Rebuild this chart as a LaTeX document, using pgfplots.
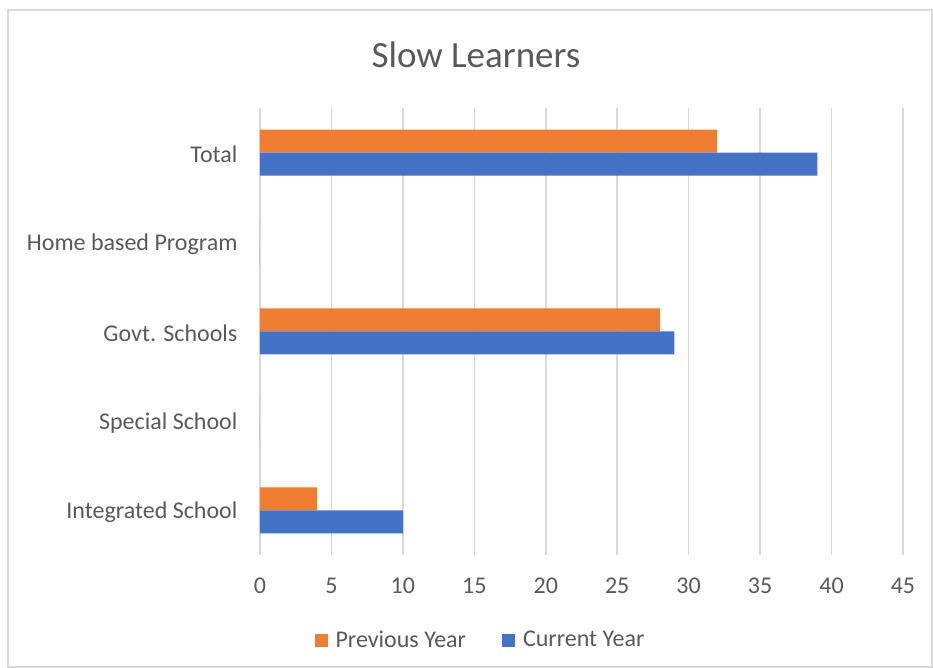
\documentclass[border=0pt]{standalone}
\usepackage{pgfplots}
\usepackage{fontspec}
\setmainfont{Carlito}
\pgfplotsset{compat=1.18}
\definecolor{PrevColor}{RGB}{237,125,49}
\definecolor{CurColor}{RGB}{68,114,196}
\definecolor{GridColor}{RGB}{217,217,217}
\definecolor{TextColor}{RGB}{89,89,89}
\begin{document}
\begin{tikzpicture}
  % chart area (1px = 0.5pt)
  \path[use as bounding box] (0,0) rectangle (466.5pt,334pt);
  \draw[GridColor, line width=0.7pt] (4pt,0.4pt) rectangle (466pt,329pt);
  \node[TextColor, font=\fontsize{18.5}{21}\selectfont] at (238pt,306.5pt) {Slow Learners};
  \begin{axis}[
      at={(130pt,56.5pt)}, anchor=south west,
      scale only axis, width=321.5pt, height=223.5pt,
      xbar, bar width=11.5pt,
      xmin=0, xmax=45, ymin=-0.5, ymax=4.5,
      xtick={0,5,...,45},
      ytick={0,1,2,3,4},
      yticklabels={Integrated School, Special School, Govt. Schools, Home based Program, Total},
      axis line style={draw=none},
      tick style={draw=none},
      xmajorgrids, major grid style={GridColor, line width=0.8pt},
      ymajorgrids=false,
      ticklabel style={font=\fontsize{12}{14}\selectfont, text=TextColor},
      /pgf/number format/assume math mode=true,
      xticklabel style={yshift=-8pt},
      yticklabel style={xshift=-3.5pt, yshift=-1pt},
      legend style={at={(0.3445,-0.191)}, anchor=center, draw=none,
        legend columns=2, font=\fontsize{12}{14}\selectfont, text=TextColor,
        /tikz/every odd column/.append style={column sep=2pt},
        /tikz/every even column/.append style={column sep=16pt}},
      legend image code/.code={\fill[#1] (0pt,-3.2pt) rectangle (6.5pt,3.2pt);},
    ]
    \addplot[fill=PrevColor, draw=none, bar shift=5.75pt] coordinates {(4,0) (0,1) (28,2) (0,3) (32,4)};
    \addplot[fill=CurColor, draw=none, bar shift=-5.75pt] coordinates {(10,0) (0,1) (29,2) (0,3) (39,4)};
    \legend{Previous Year, Current Year}
  \end{axis}
\end{tikzpicture}
\end{document}
